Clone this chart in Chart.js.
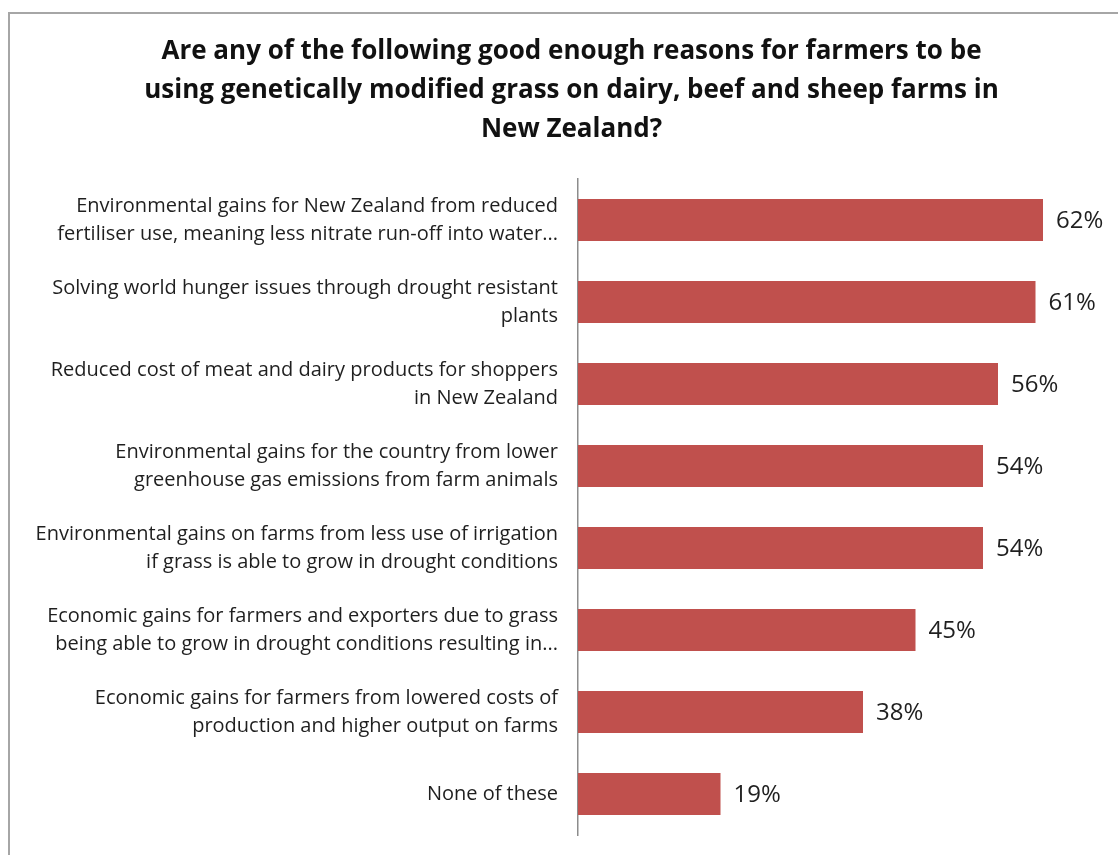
<!DOCTYPE html>
<html>
<head>
<meta charset="utf-8">
<script src="https://cdn.jsdelivr.net/npm/chart.js@4.4.0/dist/chart.umd.min.js"></script>
<style>
  html, body { margin: 0; padding: 0; background: #fff; overflow: hidden; }
  #frame {
    position: absolute; left: 8px; top: 12px; width: 1110px; height: 843px;
    border-top: 2px solid #a6a6a6; border-left: 2px solid #a6a6a6;
    overflow: hidden;
  }
  #wrap { position: relative; width: 1138px; height: 869px; }
</style>
</head>
<body>
<div id="frame"><div id="wrap"><canvas id="gm-chart"></canvas></div></div>
<script>
// 設問と回答
const titleLines = [
  'Are any of the following good enough reasons for farmers to be',
  'using genetically modified grass on dairy, beef and sheep farms in',
  'New Zealand?'
];
const reasons = [
  ['Environmental gains for New Zealand from reduced', 'fertiliser use, meaning less nitrate run-off into water...'],
  ['Solving world hunger issues through drought resistant', 'plants'],
  ['Reduced cost of meat and dairy products for shoppers', 'in New Zealand'],
  ['Environmental gains for the country from lower', 'greenhouse gas emissions from farm animals'],
  ['Environmental gains on farms from less use of irrigation', 'if grass is able to grow in drought conditions'],
  ['Economic gains for farmers and exporters due to grass', 'being able to grow in drought conditions resulting in...'],
  ['Economic gains for farmers from lowered costs of', 'production and higher output on farms'],
  'None of these'
];
const percents = [62, 61, 56, 54, 54, 45, 38, 19];

const FONT = '"Open Sans", Lato, sans-serif';

// バーの右側に%表示
const valueLabels = {
  id: 'valueLabels',
  afterDatasetsDraw(chart) {
    const ctx = chart.ctx;
    const meta = chart.getDatasetMeta(0);
    ctx.save();
    ctx.font = '24px ' + FONT;
    ctx.fillStyle = '#1f1f1f';
    ctx.textAlign = 'left';
    ctx.textBaseline = 'middle';
    meta.data.forEach((bar, i) => {
      ctx.fillText(percents[i] + '%', bar.x + 13, bar.y + 1);
    });
    ctx.restore();
  }
};

const ctx = document.getElementById('gm-chart').getContext('2d');
new Chart(ctx, {
  type: 'bar',
  data: {
    labels: reasons,
    datasets: [{
      data: percents,
      backgroundColor: '#c0504d',
      barPercentage: 0.51,
      categoryPercentage: 1.0
    }]
  },
  options: {
    indexAxis: 'y',
    responsive: true,
    maintainAspectRatio: false,
    animation: false,
    layout: { padding: { left: 0, right: 15, top: 0, bottom: 8 } },
    scales: {
      x: { display: false, min: 0, max: 74 },
      y: {
        afterFit: (scale) => { scale.width = 568; },
        grid: { display: false, drawTicks: false },
        border: { display: true, color: '#8c8c8c', width: 1.5 },
        ticks: {
          padding: 20,
          color: '#1f1f1f',
          font: { family: FONT, size: 20, lineHeight: 1.4 }
        }
      }
    },
    plugins: {
      legend: { display: false },
      tooltip: { enabled: false },
      title: {
        display: true,
        text: titleLines,
        color: '#111',
        font: { family: FONT, size: 26, weight: 'bold', lineHeight: 1.5 },
        padding: { top: 18, bottom: 30 }
      }
    }
  },
  plugins: [valueLabels]
});
</script>
</body>
</html>
